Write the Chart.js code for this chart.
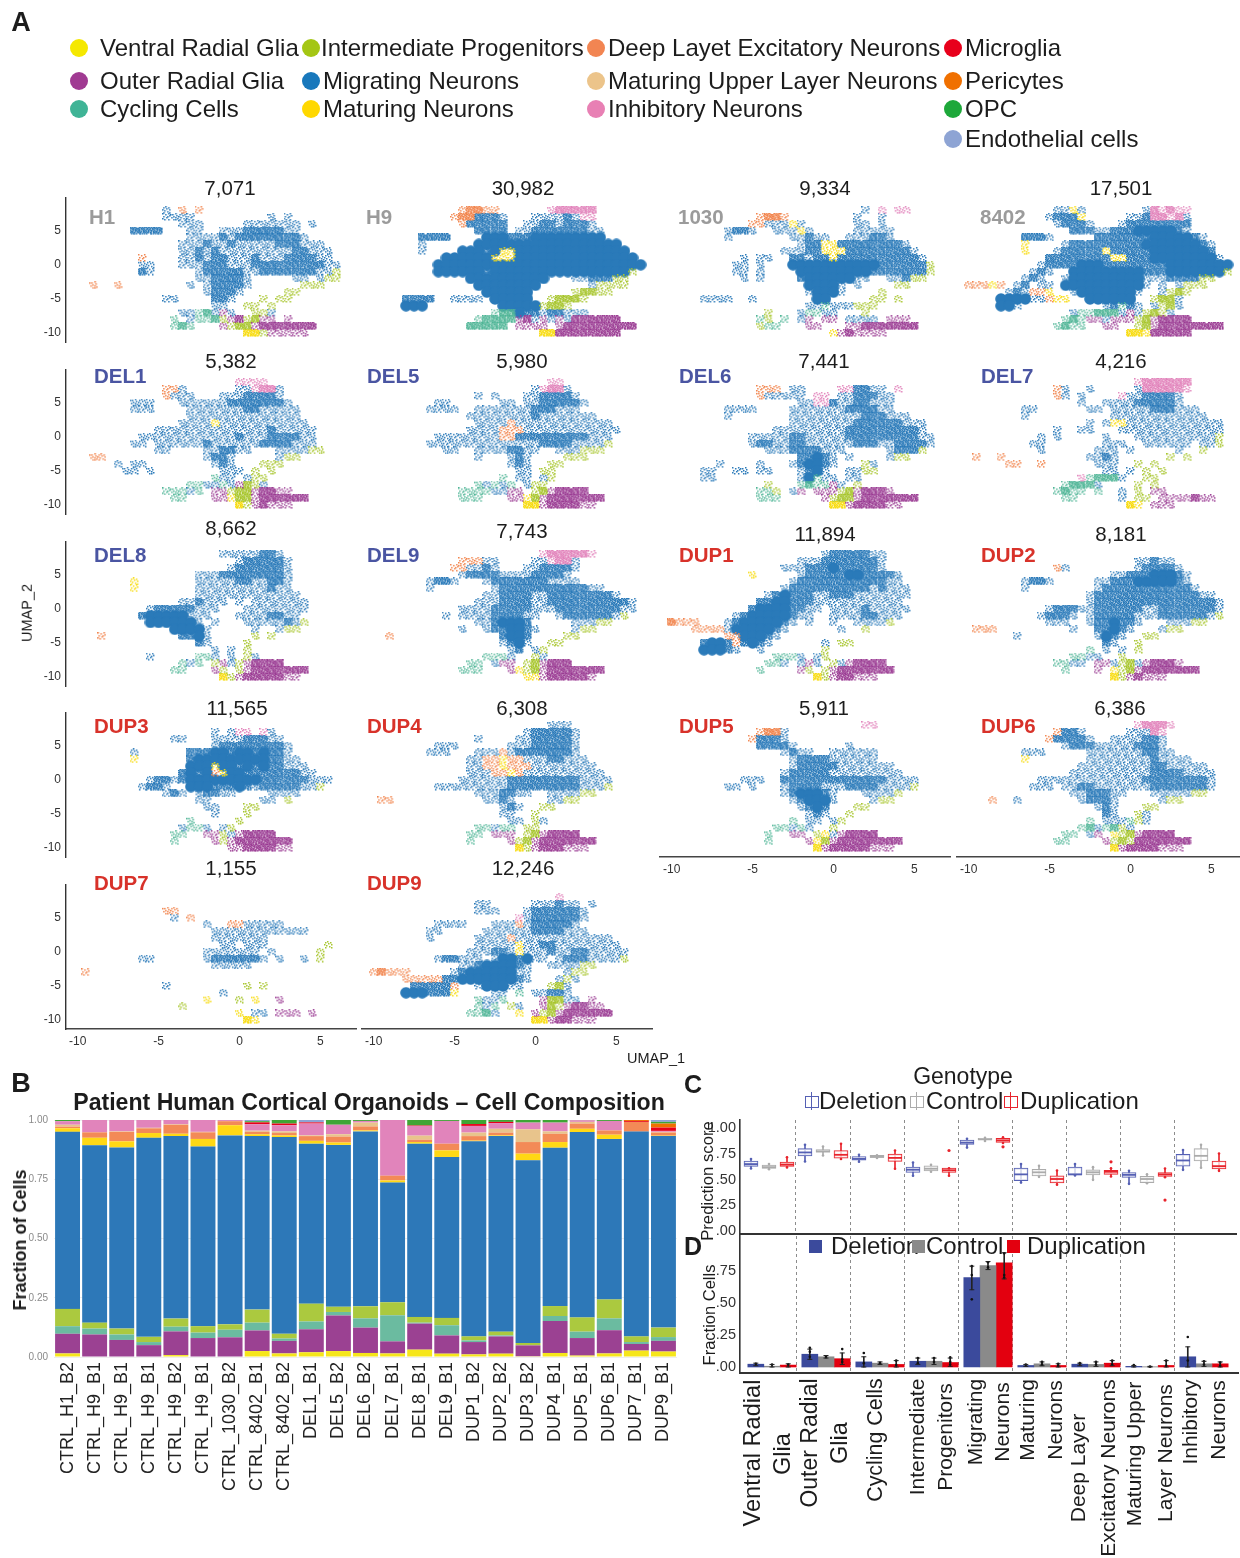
<!DOCTYPE html>
<html>
<head>
<meta charset="utf-8">
<title>Patient Human Cortical Organoids</title>
<script src="https://cdn.jsdelivr.net/npm/chart.js@4"></script>
<style>
  html, body { margin: 0; background: #fff; }
  #page { position: relative; width: 1240px; height: 1558px; overflow: hidden; font-family: "Liberation Sans", Arial, sans-serif; color: #1c1c1c; filter: blur(.35px); }
  #page canvas { position: absolute; }
  .txt { position: absolute; white-space: nowrap; line-height: 1; }
  .dot { position: absolute; width: 18px; height: 18px; border-radius: 50%; }
</style>
</head>
<body>
<div id="page"></div>
<script>
// cell colours, shared by the legend and the composition bars
const cellTypes = ['Ventral Radial Glia','Outer Radial Glia','Cycling Cells','Intermediate Progenitors','Migrating Neurons','Maturing Neurons','Deep Layer Excitatory Neurons','Maturing Upper Layer Neurons','Inhibitory Neurons','Microglia','Pericytes','OPC','Endothelial cells'];
const cellColors = ['#f6e61a','#9b4192','#6bbba0','#abc93f','#2d78b8','#ffd815','#f38a57','#e8c48c','#e184bb','#e8001b','#f07000','#3fa535','#8ea4d4'];

// --- panel A: density read off each UMAP, one char per cell (x -10..6.5 by .5, y 8..-10 by 1)
// b B # blue, p P purple, g G green, t T teal, y Y yellow, o O orange, k K pink; lower case = sparse
const h1Rows = [
'           b o o',
'           bbbb         b b',
'             bbb     bbbbbbb b',
'       BBBB   bb  bbbBBBBBbb',
'              bbbbBbBBBBBBBBb',
'             bbbBbbBbbbbbBBBbbb',
'             bbBbBbbbbbbbbbBBbbb',
'        o    bbBbBBbbbBbbbBBBBbb',
'        bb   bbbBBBbbbBBBBBBBBBbb',
'        Bb     bBBBBBbbBBBBBBBbbg',
'               bbBBBBb     bb bgg',
'  o  o        b bBBBBb      ggg',
'                bBBBb     gg',
'           bb    BBb   g gg',
'                 bb  gg g',
'             bbtTbpb  ggb',
'            t bttTgpPgGpp p',
'            tTt   pgGGpPPPPPPP',
'                     YYgppppp'];
const h9Rows = [
'           oOOoo      kKKKKK',
'          oOOBBBb   bbbbBbkk',
'           oBBBBB  bbBBbBBBb',
'             BBBB bbBBBBBBBbb',
'      BBBB    ###BBB#########',
'      b      ##################',
'      b    ###B#yy##############',
'         ######yyy###############',
'        ##########################',
'        ######B#################g',
'            ##########   bbBBBgg',
'             ########      bgggg',
'              ######     gGGgg',
'    BBBB  bbbb #####  gGGGg',
'    ###         #####gGGg',
'               tTT#BBbBBbbb',
'             tTTTTpPbpbpbPPPPPP',
'            TTTTT pppp pPPPPPPPPP',
'                     YYPPPPPPPP'];
const c1030Rows = [
'                        b k kk',
'           oOOo        b  b',
'          oobbbyb      bb b',
'       bBBb  bbbyb     bbbbb',
'       b       bbBbb  bbbBBb',
'                bBByyBBBBBBBBb',
'              bbbBByyyBBBBBBBBb',
'         b bb  BBbBByBBBBBBBBBBb',
'        bb b   ###########BBBBBBg',
'        bb b    #########BBBBBBBg',
'         b b    B######bb  bbBgg',
'                 ####b b    gg',
'                 b###b    g',
'    bbbb  b       ##     gg g',
'                 bbtbbbggg',
'            g   bttbb   g',
'           tg t bp pp bbbb ppp',
'           gtt   pp   ppPPPPPPP',
'                    ypPpppp'];
const c8402Rows = [
'           bbyb       bKkKkk',
'          bBBBy     bbBKKkKb',
'           bBBBb   bBBBBBBBB',
'             BBBbbBBB#####Bb',
'       BBBb     BBBBBBB#####Bb',
'       y    bBBBBBBBBB#######Bb',
'       y   bBBBBByBBBBB#######B',
'          BBBBBBBByyBBB########b',
'         bBBBB###BBBBBBBB########',
'        bBb  #########BBB#######g',
'       bBb  b#########bbbBBBBgg',
'oooyo bB bb ##########b b bggg',
'     bBbooy  b#######b  bgGg',
'    ####bboyy  ######  gGGb',
'    ##b          bBtBb bgGb',
'             bttTTTbpbgGgb',
'            tTtppbpppgGpPPPP',
'           tTtt  pp  gGpPPPPPPPP',
'                    YYyPPPPP'];
const del1Rows = [
'                    kkkk',
'           oob      bbkKKb',
'           obbb   bbbBBBBb',
'       bbb   bbbbbbBBBBBBBb',
'       bbb    bbbbbbbBBbbbbb',
'              bbbbbbbbbbbbbb',
'             bbbbybbbbbbbbbbb',
'          bbbbbbbbbbbbbbBbbbbb',
'        bbbbbbbbbbbbBbbbBBBBbb',
'       bb bbbbbbBbbbbbbBBBBbbb',
'          bb    bbBBbb   bbbbgg',
'  oo            bBBb     bgg',
'     b bb        bBb   ggg',
'      bb b        bbb g g',
'                 tbb bgg',
'              ttbbtbpGgb',
'           tttbt ppgGGpPPpp',
'            tt   ppyGGpPPPPPP',
'                    YgpPppp'];
const del5Rows = [
'                      kk',
'                    bkKKb',
'             b b   bbBBBBb',
'        bb      bb bbBBBBBb',
'       bbbb  bbbbbbbBBBbbb',
'            bbbbbbbbBbbbbbbb',
'             bbbbobbbbbbbbbbbb',
'            bbbbooobbbbbbbbbbbb',
'        bbbbbbbbooBBBBBBBBBbbb',
'       bbbbbbbbbbbbbbBBBBbbbbg',
'         bb  bbbbBBbb  bbbggg',
'             b   bBb    ggg',
'                 bBb  gg',
'                  bb gg',
'                t bb bg',
'             tbtbt bgg',
'           ttttbbpp gGpPPPP',
'           ttt   ppyGpPPPPPPP',
'                   YYpPPPPpp'];
const del6Rows = [
'',
'           ooo bb    kkBBbb k',
'           obbbbb kk bbBBBbb',
'                bbkkBbbBBbbb',
'       bbbb    bbbbbbbBBBBbb',
'       b       bbbbbbbbbBBBbbb',
'               bbbbbbbbBBBBBBbbb',
'             bbbbbbbbbBBBBBBBBBb',
'          bbbbbBBbbbbbBBBBBBBBBbb',
'          bBBbbBBbbbbbbBBBbbBBBBb',
'            bbbBBBBbbb     bBBBg',
'                BB#Bb b    bgg',
'      b    b   bB##Bb   gb',
'    bb  bb bb   bB#b  bbgg',
'    bb          b#tbb bb',
'            g   tTttpb g',
'           ttg bp pppgGpPPPp',
'           ttt     pgGGpPPPPPPP',
'                    YYpPPPPpp'];
const del7Rows = [
'                     kKKKKKK',
'           ob  b     bKKKKKk',
'           ob b    kbbBBBBb',
'              b  bbbbBBBBBb',
'       bb      bb bbbbbBBBbbb',
'       b          bbbbbbbbbbbb',
'               b byybbbbbbbbbbbb',
'           b  bb   bbbbbbbbbbbbb',
'         b b     b   bbbbbbbbbbg',
'        bb       bbb  bbbbbb bbg',
'         b      bbb b     b  g',
' o  o          bbBb      g g',
'     oo  o      bbb  g g',
'                 bb b g g',
'              ktTTTb  gg',
'            tTTTb    g g',
'           tTtt t  b g pp',
'            tt     b gg ppppPpp',
'                    Yy ppp'];
const del8Rows = [
'                  bbbbbBBb',
'                    bBBBBBb',
'                   bBBBBBBb',
'               bbbBBBBBBBBb',
'       y       bbbbbBBbbBBb',
'       y       bbbbbbbbbBbb',
'               bbbbbbbbbbbbb',
'             bbBbbb b bbbbbbb',
'         bBBBBBbbb   bbbbbbbb',
'        B#####bbb   bbbbBBbb',
'         ######b b   bbbbbBbg',
'            ####b     b  bgg',
'   o         BB#b     g g',
'               Bb    g',
'                 b b g',
'         b     ttb b gb',
'             tbt gpbgpPPPP',
'            tt   pg gpPPPPPPP',
'                  YgpPPPPPpp'];
const del9Rows = [
'                     kKKKKKk',
'           ooobb    bbkKKb',
'          oobbBb   bbBBBBb',
'           bBBBBbbbbBBBBb',
'       bBBb   bBBBBBBBbbbb',
'       b       bBBBBBBBBBBBbb',
'              bbBBBBbbBBBBBBBBb',
'             bbbBBBBbbBBBBBBBBBBb',
'           bbbbBBBBBbbbBBBBBBBBbb',
'         b bbbbBBBBbb  bBBBBBBbg',
'             bbB###B     bbbgg',
'           b  bBB##Bb    bgg',
'  o             B##B    gg',
'                bB#b  gg',
'                 bB bg',
'              tttb  gb',
'            tt bpp gGpPPP',
'           ttt   pygGpPPPPPPP',
'                   yypPPPPPp'];
const dup1Rows = [
'                   bBBBBBbb',
'                bbbBBBBBBBb',
'              bbbBBB#BBBBBb',
'          y     bBBBBB##BBBBb',
'               bBBBBBBBBBBBbb',
'              bBBBBBBBBBBbBbbb',
'            bB#BBBbbBBBbbbbbbb',
'           BB##BBBbbbbbbbbbbb',
'          B####BBbb bbbbBbbbbb',
'        bB#####Bbb  bbbbBBbbb',
'Oooo   bB#####Bb b  b  bbbbg',
'   oooob#####Bb      b  g',
'       oo###Bb',
'    B##BoB#Bb      b gg',
'    ###Bb  b       g',
'             tttb bg',
'            ttb bpb gbpPPPP',
'           t    pg gpPPPPPPP',
'                  YgpPPppp'];
const dup2Rows = [
'',
'                     bbBbb',
'           ob        bBBBBb',
'                  bbBBB###Bb',
'       bBBb     bbBBB#####Bb',
'       b        bBBBBBBBBBBBb',
'               bBBBBBBBBBBBBBbb',
'               bBBBBBBBBBBBBBBBb',
'          bBBBbbBBBBBBbbBBBBBBBb',
'         bBBBb bBBBBBbbbBBBBBBbg',
'          bbb  bBB#BBb   bbbgg',
' ooo         b  BB#Bb   bgg',
'      b         b#Bb  gg',
'                 Bb  g',
'               t b b g',
'             ttbb  g',
'           ttbb ppbgGbpPPPp',
'            t   p ygGpPPPPPPP',
'                  YgpPppp'];
const dup3Rows = [
'',
'                 b bkk kb',
'            bb   bbbbBBBbb',
'                 bBBBBBBBBb',
'       b      BBB##B##B#BBb',
'       y      B#########BBbb',
'              ###y##B#B#BBbbb',
'             B#B#oy##BBBBBBBbb',
'         bBBbB#########BBBBBBbbb',
'        bBBb  ###BBB#BbBBBBBbbg',
'           bBb bBBbb    bbbb',
'               bb      bb g',
'                bb   gg',
'                 b   g',
'              t     g',
'             bttb bg',
'            tt  ppgbpPPPP',
'            t    pgpPPPPPPP',
'                   ppPPPPpp'];
const dup4Rows = [
'                      bbb',
'                   bBBBBBb',
'             b    bbBBBBBb',
'        bbb      bbbBBBBBb',
'       bbb   bbbobBBBBBBBb',
'            bbooyoobbbBBbbb',
'            bbooyooobbbbbbbb',
'            bbbooyobbbbbbbbbb',
'           bbbbbbBBBBBBBBBbbbb',
'        bbbbbbbbbBBBBBBBBBbbbg',
'             bbbBBbb  bbbbgg',
' oo           bbBb    bbgg',
'                bBb  gg',
'                bb  g',
'                 bb gb',
'             ttbtt gg',
'            tt ppp gGpPPPP',
'            t    pgGpPPPPPPP',
'                  YgpPPPppp'];
const dup5Rows = [
'                        kk',
'           oOOb',
'          oBBBb',
'           BBBBb      b',
'              bBbb  bbbbbb',
'               bBBBBbbbbbb',
'               bBBBBBbbbbbbb',
'              bBBBBBbbbbbbbbb',
'         bbb  BBBBBBBBBBBBBbbbb',
'       bb b   bBBBBbbbBBBBbbbbg',
'              bB###Bb   bbbbg',
'               bB###b    bgg',
'                bB#B   gg',
'                 bBb  g',
'               t bb bg',
'             ttbtb  g',
'            t  pp gybpPPPP',
'            t    pyGpPPPPPPPP',
'                  YpPPPPPppp'];
const dup6Rows = [
'                     kKKKk',
'           oBBb     bbbKk',
'          oBBBBb  bbbbBBb',
'            bBBBbbbbbBBBb',
'       bbb     bbbbbbbBBbb',
'       y       bbbbbbbbBbbbb',
'              bbbbbbbbbBBbbbbb',
'             bbbbbbbbbbBBBBbbbb',
'         bbbbbbbbbbbbbBBBBBBBBb',
'        bbb bbBBbbbbbbbBBBBBBBb',
'             bbBBBbb   bbbbbgg',
'   o  b       bBBBb     bgg',
'                bBb   gg',
'                 Bb  gb',
'               t bbbtgb',
'              tTbtTgb',
'            tt bp ygGpPPPP',
'           tt    pgGgPPPPPPP',
'                  YpPPPPppp'];
const dup7Rows = [
'',
'',
'           oo',
'            b o',
'                b  oobbbbb',
'                 bbbbbbbbbbbb',
'                 bbbbbbb',
'                  bb bbb       g',
'                bbbbbbb b     g',
'        bb      bBBBBBBb b  b g',
'                 bbbbb',
' o',
'',
'           b         g g',
'                  b',
'                y   g y  p',
'             g',
'                    y bb ppp p',
'                     Yy'];
const dup9Rows = [
'                       k',
'             bb     bbbBbb b',
'             bbb   bBBBBBBb',
'                  kbBBBBBBb',
'        bbbb   bbbobBBBBBb',
'       bb     bbbbbbBBBBbbb',
'       b     bbbbobbbbbbbbbbbb',
'             bbbbbybbBBbbbbbbbb',
'            bbbBBbybbbBbbBBbbbbb',
'        bBBbbb b##B#bb bBBBbbbbg',
'           bbB####Bb  bbbbgg',
'oOooo     bB######bb    bgg',
'    oooooBB#######Bb   bgb',
'     BBBBBo  b###bb   gGb',
'    ###BBBy    bb t bbBBb',
'             tbbt    pGGbb p',
'             tbt gb  pGgpPPpp',
'            ttTb  y pgGpPPPPPP',
'                    YYpPPppp'];

const sampleNames = ['H1','H9','1030','8402','DEL1','DEL5','DEL6','DEL7','DEL8','DEL9','DUP1','DUP2','DUP3','DUP4','DUP5','DUP6','DUP7','DUP9'];
const sampleCounts = ['7,071','30,982','9,334','17,501','5,382','5,980','7,441','4,216','8,662','7,743','11,894','8,181','11,565','6,308','5,911','6,386','1,155','12,246'];
const sampleRows = [h1Rows,h9Rows,c1030Rows,c8402Rows,del1Rows,del5Rows,del6Rows,del7Rows,del8Rows,del9Rows,dup1Rows,dup2Rows,dup3Rows,dup4Rows,dup5Rows,dup6Rows,dup7Rows,dup9Rows];
const umapTicks = [-10,-5,0,5];

// --- panel B
const barLabels = ['CTRL_H1_B2','CTRL_H9_B1','CTRL_H9_B1','CTRL_H9_B1','CTRL_H9_B2','CTRL_H9_B1','CTRL_1030_B2','CTRL_8402_B1','CTRL_8402_B2','DEL1_B1','DEL5_B2','DEL6_B2','DEL7_B1','DEL8_B1','DEL9_B1','DUP1_B2','DUP2_B2','DUP3_B2','DUP4_B1','DUP5_B1','DUP6_B1','DUP7_B1','DUP9_B1'];
const fracVentral = [.015,0,0,0,.008,0,0,.025,.015,.02,.025,.017,.015,.031,.014,.011,.014,.003,.017,.006,.015,.027,.023];
const fracOuter = [.083,.095,.072,.05,.1,.08,.083,.087,.053,.097,.15,.107,.051,.11,.077,.052,.073,.046,.135,.074,.098,.028,.045];
const fracCycling = [.032,.025,.023,.013,.02,.023,.032,.033,.01,.033,.015,.039,.11,.004,.043,.007,.004,0,.021,.027,.05,.008,.016];
const fracInter = [.073,.025,.025,.022,.034,.027,.023,.055,.02,.075,.022,.051,.055,.024,.031,.017,.016,.01,.042,.06,.08,.024,.04];
const fracMigrating = [.747,.748,.764,.84,.77,.758,.797,.732,.83,.675,.683,.738,.505,.731,.679,.823,.825,.771,.668,.782,.677,.864,.808];
const fracMaturing = [.015,.032,.026,.02,.01,.032,.043,.008,.007,.012,.01,.004,.009,.007,.028,.003,.003,.028,.024,.014,.018,0,.002];
const fracDeep = [.007,.023,.04,.02,.038,.028,.017,.01,.01,.02,.025,.017,.02,.01,.028,.019,.012,.049,.035,.022,.018,.041,.013];
const fracUpper = [.008,0,.002,.002,.002,.002,.001,.005,.007,.003,.01,.016,0,.017,0,.015,.016,.054,.01,.007,0,0,.003];
const fracInhib = [.015,.052,.048,.033,.018,.05,.004,.027,.026,.05,.04,.007,.235,.041,.096,.028,.024,.028,.037,.007,.04,0,.004];
const fracMicroglia = [0,0,0,0,0,0,0,.008,.007,.005,0,0,0,.002,0,.008,.005,0,0,0,0,.004,.014];
const fracPericytes = [0,0,0,0,0,0,0,0,0,0,0,0,0,0,0,0,0,0,0,0,0,.004,.017];
const fracOpc = [.005,0,0,0,0,0,0,.005,.015,0,.02,.004,0,.023,.004,.017,.008,.011,.011,.001,.004,0,.007];
const fracEndo = [0,0,0,0,0,0,0,.005,0,.01,0,0,0,0,0,0,0,0,0,0,0,0,.008];
const barSeries = [fracVentral,fracOuter,fracCycling,fracInter,fracMigrating,fracMaturing,fracDeep,fracUpper,fracInhib,fracMicroglia,fracPericytes,fracOpc,fracEndo];

// --- panel C, per cell group: [low whisker, q1, median, q3, high whisker]
const boxDeletion = [[.607,.627,.65,.68,.70],[.675,.73,.763,.80,.838],[.672,.688,.70,.724,.74],[.536,.568,.595,.62,.666],[.81,.84,.858,.883,.896],[.47,.49,.55,.61,.65],[.54,.545,.55,.62,.65],[.458,.52,.545,.568,.584],[.594,.63,.685,.744,.786]];
const boxControl = [[.60,.607,.62,.64,.65],[.733,.766,.773,.79,.82],[.71,.714,.72,.734,.735],[.575,.584,.605,.633,.643],[.875,.886,.89,.90,.905],[.526,.536,.57,.60,.633],[.497,.545,.57,.594,.62],[.464,.47,.505,.53,.55],[.614,.68,.73,.80,.838]];
const boxDuplication = [[.617,.627,.645,.669,.717],[.70,.708,.74,.782,.847],[.604,.675,.71,.747,.782],[.536,.568,.59,.61,.61],[.855,.86,.88,.90,.91],[.45,.468,.505,.536,.588],[.53,.55,.575,.59,.61],[.523,.53,.55,.568,.607],[.584,.604,.63,.68,.753]];
const boxOutliers = [[3,.782],[4,.818],[6,.672],[7,.30]];
const scoreTicks = [0,.25,.5,.75,1];
const scoreTickNames = ['.00','.25','.50','.75','1.00'];

// --- panel D
const meanDeletion = [.022,.10,.04,.045,.70,.012,.022,.005,.08];
const meanControl = [.006,.08,.03,.045,.795,.025,.02,.002,.025];
const meanDuplication = [.015,.065,.02,.035,.815,.012,.03,.012,.025];
const errDeletion = [[.01,.03],[.06,.14],[0,.08],[.02,.07],[.605,.79],[.005,.02],[.01,.03],[0,.012],[0,.158]];
const errControl = [[0,.02],[.07,.09],[.02,.04],[.02,.07],[.763,.826],[.01,.04],[.005,.04],[0,.005],[.005,.045]];
const errDuplication = [[0,.025],[.02,.11],[0,.05],[.005,.07],[.69,.895],[0,.025],[.01,.05],[0,.05],[0,.04]];
const dotsDeletion = [[0,.025],[1,.15],[1,.12],[1,.08],[2,.11],[2,.03],[3,.07],[3,.03],[4,.53],[4,.72],[4,.79],[5,.02],[6,.03],[7,.015],[8,.235],[8,.05]];
const dotsControl = [[0,.02],[1,.08],[2,.03],[3,.07],[3,.04],[4,.82],[4,.78],[5,.04],[5,.02],[6,.04],[6,.02],[7,.003],[8,.045],[8,.02]];
const dotsDuplication = [[0,.02],[1,.14],[1,.06],[1,.04],[2,.05],[2,.015],[3,.075],[3,.04],[3,.02],[4,.89],[4,.72],[4,.70],[5,.025],[5,.01],[6,.05],[6,.02],[7,.05],[7,.01],[8,.035],[8,.01]];

const genoColors = ['#3b4a9c','#8a8a8a','#e3000f'];
const boxColors = ['#5560b4','#ababab','#e8242c'];
const dividers = [0,1,2,3,4,5,6,7];

const page = document.getElementById('page');
const COLOR_BY_KIND = { b:'#2a7ab9', p:'#9b3d94', g:'#a8c62e', t:'#4fb596', y:'#f8dc10', o:'#f2854e', k:'#e283bb' };

// stipple textures for one density cell
const SPARSE_TILES = [
  ['x.....x.','...x....','.......x','.x...x..','....x...','x.......','..x...x.'],
  ['...x....','.x....x.','....x...','x......x','..x.....','.....x..','.x.....x'],
  ['.....x..','x.x.....','......x.','...x....','.x...x..','.......x','...x.x..']
];
const MEDIUM_TILES = [
  ['x.xx.x.x','.x..x.x.','xx.x..xx','..x.xx..','x.x..x.x','.xx.x..x','x...xx.x'],
  ['.xx.x.xx','x..x.x..','.x.xx.x.','xx...x.x','.x.x.xx.','x.x..x.x','.xx.x.x.'],
  ['x.x.xx..','xx.x..xx','..xx.x.x','x..x.xx.','.xx..x.x','x.x.x..x','.x.xx.x.']
];
const tileCache = {};

function getTile(kind, level, variant) {
  const key = kind + level + variant;
  if (tileCache[key]) return tileCache[key];
  const t = document.createElement('canvas');
  const col = COLOR_BY_KIND[kind];
  if (level === 3) {
    t.width = 12; t.height = 12;
    const c3 = t.getContext('2d');
    c3.fillStyle = col;
    c3.beginPath();
    c3.arc(6, 6, 5.8, 0, Math.PI * 2);
    c3.fill();
  } else {
    t.width = 9; t.height = 8;
    const c2 = t.getContext('2d');
    c2.fillStyle = col;
    const pat = (level === 2 ? MEDIUM_TILES : SPARSE_TILES)[variant];
    pat.forEach((line, r) => [...line].forEach((ch, c) => { if (ch === 'x') c2.fillRect(c, r, 1.5, 1.5); }));
  }
  tileCache[key] = t;
  return t;
}

function addText(str, x, y, opts) {
  opts = opts || {};
  const el = document.createElement('div');
  el.className = 'txt';
  el.textContent = str;
  el.style.left = x + 'px';
  el.style.top = y + 'px';
  el.style.fontSize = (opts.size || 20) + 'px';
  if (opts.bold) el.style.fontWeight = 'bold';
  if (opts.color) el.style.color = opts.color;
  const shift = opts.left ? '0' : '-50%';
  el.style.transform = `translate(${shift},-50%)` + (opts.rotate ? ' rotate(-90deg)' : '');
  page.appendChild(el);
}

function addDot(x, y, color) {
  const el = document.createElement('div');
  el.className = 'dot';
  el.style.left = (x - 9) + 'px';
  el.style.top = (y - 9) + 'px';
  el.style.background = color;
  page.appendChild(el);
}

// makes a canvas so the plot area lands on the given box of the page
function makeCanvas(box) {
  const c = document.createElement('canvas');
  c.width = box.w + box.ml + box.mr;
  c.height = box.h + box.mt + box.mb;
  c.style.left = (box.x - box.ml) + 'px';
  c.style.top = (box.y - box.mt) + 'px';
  c.style.width = c.width + 'px';
  c.style.height = c.height + 'px';
  page.appendChild(c);
  return c;
}

function baseOptions(box) {
  return {
    responsive: false, animation: false, events: [],
    layout: { autoPadding: false, padding: { top: box.mt, right: box.mr, left: 0, bottom: 0 } },
    plugins: { legend: { display: false }, tooltip: { enabled: false } }
  };
}

// keeps chart.js from shrinking the plot to make room for tick labels
function fitX(box) {
  return s => { s.height = box.mb; s.paddingLeft = s.paddingRight = s.paddingTop = s.paddingBottom = 0; };
}
function fitY(box) {
  return s => { s.width = box.ml; s.paddingLeft = s.paddingRight = s.paddingTop = s.paddingBottom = 0; };
}

// turns one density map into scatter datasets, one mark per cell
function cellDatasets(rows) {
  const groups = {};
  rows.forEach((row, j) => {
    [...row].forEach((ch, i) => {
      if (ch === ' ') return;
      let kind = ch.toLowerCase(), level = ch === ch.toLowerCase() ? 1 : 2;
      if (ch === '#') { kind = 'b'; level = 3; }
      const variant = level === 3 ? 0 : (i * 2 + j * 5) % 3;
      const key = kind + level + variant;
      if (!groups[key]) groups[key] = { kind, level, variant, pts: [] };
      groups[key].pts.push({ x: -10 + i * 0.5, y: 8 - j });
    });
  });
  return Object.values(groups).map(g => ({
    data: g.pts,
    pointStyle: getTile(g.kind, g.level, g.variant),
    pointRadius: 5,
    order: g.kind === 'b' ? 5 : 1
  }));
}

function drawUmap(idx, col, row, showX, showY) {
  const colLeft = [66, 362, 660, 957][col];
  const rowTop = [198, 370, 542, 713, 885][row];
  const box = { x: colLeft, y: rowTop, w: 290, h: 144, ml: 32, mr: 4, mt: 4, mb: 22 };
  const tickFont = { size: 12, family: '"Liberation Sans"' };
  new Chart(makeCanvas(box), {
    type: 'scatter',
    data: { datasets: cellDatasets(sampleRows[idx]) },
    options: Object.assign(baseOptions(box), {
      scales: {
        x: {
          type: 'linear', min: -10.72, max: 7.2,
          afterBuildTicks: s => { s.ticks = umapTicks.map(value => ({ value })); },
          afterFit: fitX(box),
          grid: { display: false, drawTicks: showX, tickLength: 3, tickColor: '#444' },
          border: { display: showX, color: '#444', width: 1.6 },
          ticks: { display: showX, color: '#333', font: tickFont, maxRotation: 0, padding: 2 }
        },
        y: {
          type: 'linear', min: -11.3, max: 9.78,
          afterBuildTicks: s => { s.ticks = umapTicks.map(value => ({ value })); },
          afterFit: fitY(box),
          grid: { display: false, drawTicks: showY, tickLength: 3, tickColor: '#444' },
          border: { display: showY, color: '#333', width: 1.4 },
          ticks: { display: showY, color: '#333', font: tickFont, padding: 2 }
        }
      }
    })
  });
}

function drawComposition() {
  const box = { x: 54, y: 1119.5, w: 623, h: 237, ml: 30, mr: 3, mt: 8, mb: 150 };
  new Chart(makeCanvas(box), {
    type: 'bar',
    data: {
      labels: barLabels,
      datasets: barSeries.map((vals, k) => ({ label: cellTypes[k], data: vals, backgroundColor: cellColors[k], barPercentage: .92, categoryPercentage: 1 }))
    },
    options: Object.assign(baseOptions(box), {
      scales: {
        x: {
          stacked: true,
          afterFit: fitX(box),
          grid: { display: false, drawTicks: false },
          border: { display: false },
          ticks: { autoSkip: false, minRotation: 90, maxRotation: 90, color: '#222', padding: 5, font: { size: 18, family: '"Liberation Sans"' } }
        },
        y: {
          stacked: true, min: 0, max: 1,
          afterBuildTicks: s => { s.ticks = scoreTicks.map(value => ({ value })); },
          afterFit: fitY(box),
          grid: { color: '#eeeeee', drawTicks: false },
          border: { display: false },
          ticks: { color: '#8a8a8a', padding: 6, font: { size: 10, family: '"Liberation Sans"' }, callback: v => v.toFixed(2) }
        }
      }
    })
  });
}

function dividerScale(box, offset, min, max) {
  return {
    type: 'linear', min, max, offset: false,
    afterBuildTicks: s => { s.ticks = dividers.map(d => ({ value: d + offset })); },
    afterFit: fitX(box),
    grid: { offset: false, color: '#8c8c8c', lineWidth: 1, drawTicks: false },
    border: { display: true, color: '#333', width: 2, dash: [3, 3] },
    ticks: { display: false }
  };
}

function scoreDatasets(boxes, g, offset) {
  const xOf = i => i + offset;
  return [
    { type: 'bar', data: boxes.map((b, i) => ({ x: xOf(i), y: [b[0], b[4]] })), backgroundColor: boxColors[g], barThickness: 1, grouped: false, order: 3 },
    { type: 'bar', data: boxes.map((b, i) => ({ x: xOf(i), y: [b[1], b[3]] })), backgroundColor: 'rgba(255,255,255,.75)', borderColor: boxColors[g], borderWidth: 1, borderSkipped: false, barThickness: 14, grouped: false, order: 2 },
    { type: 'scatter', data: boxes.map((b, i) => ({ x: xOf(i), y: b[2] })), pointStyle: 'line', pointRadius: 7, pointBorderWidth: 1.8, pointBorderColor: boxColors[g], order: 1 },
    { type: 'scatter', data: boxes.flatMap((b, i) => [{ x: xOf(i), y: b[0] }, { x: xOf(i), y: b[4] }]), pointRadius: 1.3, pointBackgroundColor: boxColors[g], pointBorderWidth: 0, order: 1 }
  ];
}

function drawScores() {
  const box = { x: 740, y: 1120, w: 496, h: 114, ml: 40, mr: 3, mt: 1, mb: 3 };
  const sets = [
    ...scoreDatasets(boxDeletion, 0, -1 / 3),
    ...scoreDatasets(boxControl, 1, 0),
    ...scoreDatasets(boxDuplication, 2, 1 / 3),
    { type: 'scatter', data: boxOutliers.map(o => ({ x: o[0] + 1 / 3, y: o[1] })), pointRadius: 1.6, pointBackgroundColor: boxColors[2], pointBorderWidth: 0, order: 1 }
  ];
  new Chart(makeCanvas(box), {
    data: { datasets: sets },
    options: Object.assign(baseOptions(box), {
      scales: {
        x: dividerScale(box, .5, -.537, 8.648),
        y: {
          min: -.029, max: 1.078,
          afterBuildTicks: s => { s.ticks = scoreTicks.map(value => ({ value })); },
          afterFit: fitY(box),
          grid: { display: false, drawTicks: false },
          border: { color: '#333', width: 1.6 },
          ticks: { color: '#333', padding: 4, font: { size: 14.5, family: '"Liberation Sans"' }, callback: v => scoreTickNames[scoreTicks.indexOf(v)] }
        }
      }
    })
  });
}

function fractionDatasets(means, errs, dots, g, offset) {
  const xOf = i => i + offset;
  return [
    { type: 'bar', data: means.map((m, i) => ({ x: xOf(i), y: m })), backgroundColor: genoColors[g], barThickness: 16, grouped: false, order: 3 },
    { type: 'bar', data: errs.map((e, i) => ({ x: xOf(i), y: e })), backgroundColor: '#222', barThickness: 1, grouped: false, order: 2 },
    { type: 'scatter', data: errs.flatMap((e, i) => [{ x: xOf(i), y: e[0] }, { x: xOf(i), y: e[1] }]), pointStyle: 'line', pointRadius: 2.5, pointBorderWidth: 1, pointBorderColor: '#222', order: 1 },
    { type: 'scatter', data: dots.map(d => ({ x: xOf(d[0]), y: d[1] })), pointRadius: 1.3, pointBackgroundColor: '#111', pointBorderWidth: 0, order: 1 }
  ];
}

function drawFractions() {
  const box = { x: 740, y: 1236, w: 498, h: 137, ml: 40, mr: 2, mt: 1, mb: 3 };
  new Chart(makeCanvas(box), {
    data: {
      datasets: [
        ...fractionDatasets(meanDeletion, errDeletion, dotsDeletion, 0, -.3),
        ...fractionDatasets(meanControl, errControl, dotsControl, 1, 0),
        ...fractionDatasets(meanDuplication, errDuplication, dotsDuplication, 2, .3)
      ]
    },
    options: Object.assign(baseOptions(box), {
      scales: {
        x: dividerScale(box, .45, -.593, 8.63),
        y: {
          min: -.047, max: 1.026,
          afterBuildTicks: s => { s.ticks = scoreTicks.slice(0, 4).map(value => ({ value })); },
          afterFit: fitY(box),
          grid: { display: false, drawTicks: false },
          border: { color: '#333', width: 1.6 },
          ticks: { color: '#333', padding: 4, font: { size: 14.5, family: '"Liberation Sans"' }, callback: v => scoreTickNames[scoreTicks.indexOf(v)] }
        }
      }
    })
  });
}

function drawLegendA() {
  const items = [
    [79,48,100,0,'Ventral Radial Glia'],[311,48,321,3,'Intermediate Progenitors'],[596,48,608,6,'Deep Layet Excitatory Neurons'],[953,48,965,9,'Microglia'],
    [79,81,100,1,'Outer Radial Glia'],[311,81,323,4,'Migrating Neurons'],[596,81,608,7,'Maturing Upper Layer Neurons'],[953,81,965,10,'Pericytes'],
    [79,109,100,2,'Cycling Cells'],[311,109,323,5,'Maturing Neurons'],[596,109,608,8,'Inhibitory Neurons'],[953,109,965,11,'OPC'],
    [953,139,965,12,'Endothelial cells']
  ];
  const legendColors = ['#f5e800','#a03a92','#3fb496','#a4c614','#1878bc','#ffd800','#f28552','#ecc48a','#e880b4','#e8001b','#f07000','#1ea83a','#8ea4d4'];
  items.forEach(it => {
    addDot(it[0], it[1], legendColors[it[3]]);
    addText(it[4], it[2], it[1], { size: 24, left: true });
  });
}

function drawLabels() {
  const titleX = [230,523,825,1121, 231,522,824,1121, 231,522,825,1121, 237,522,824,1120, 231,523];
  const titleY = [188,188,188,188, 361,361,361,361, 528,531,534,534, 708,708,708,708, 868,868];
  const nameX = [89,366,678,980, 94,367,679,981, 94,367,679,981, 94,367,679,981, 94,367];
  const nameY = [217,217,217,217, 376,376,376,376, 555,555,555,555, 726,726,726,726, 883,883];
  sampleNames.forEach((name, i) => {
    addText(sampleCounts[i], titleX[i], titleY[i], { size: 20.5 });
    const color = name.startsWith('DEL') ? '#4a55a2' : name.startsWith('DUP') ? '#d8322a' : '#9b9b9b';
    addText(name, nameX[i], nameY[i], { size: 20.5, bold: true, color, left: true });
  });
  addText('A', 21, 22, { size: 27, bold: true });
  addText('B', 21, 1083, { size: 27, bold: true });
  addText('C', 693, 1084, { size: 25, bold: true });
  addText('D', 693, 1246, { size: 25, bold: true });
  addText('UMAP_2', 27, 613, { size: 14.5, rotate: true });
  addText('UMAP_1', 656, 1058, { size: 14.5 });
  addText('Patient Human Cortical Organoids – Cell Composition', 369, 1103, { size: 23.1, bold: true });
  addText('Fraction of Cells', 20, 1240, { size: 18, bold: true, rotate: true });
  addText('Genotype', 963, 1076, { size: 23 });
  addText('Prediction score', 708, 1181, { size: 16.7, rotate: true });
  addText('Fraction Cells', 709, 1315, { size: 16.5, rotate: true });
  // legends of C and D
  [[819,'Deletion',811,0],[926,'Control',916,1],[1020,'Duplication',1010,2]].forEach(l => {
    addText(l[1], l[0], 1101, { size: 24, left: true });
    const whisk = document.createElement('div');
    whisk.style.cssText = `position:absolute;left:${l[2]}px;top:1092px;width:1px;height:18px;background:${boxColors[l[3]]};`;
    page.appendChild(whisk);
    const sw = document.createElement('div');
    sw.style.cssText = `position:absolute;left:${l[2] - 6}px;top:1096px;width:12px;height:10px;border:1px solid ${boxColors[l[3]]};`;
    page.appendChild(sw);
  });
  [[831,'Deletion',809,0],[926,'Control',912,1],[1027,'Duplication',1007,2]].forEach(l => {
    addText(l[1], l[0], 1246, { size: 24, left: true });
    const sw = document.createElement('div');
    sw.style.cssText = `position:absolute;left:${l[2]}px;top:1240px;width:13px;height:13px;background:${genoColors[l[3]]};`;
    page.appendChild(sw);
  });
  const catLines = [['Ventral Radial',753,1453,23.6],['Glia',783,1454,23.6],['Outer Radial',809,1443,23],['Glia',840,1443,23.6],['Cycling Cells',876,1440,21.4],['Intermediate',916,1437,21],['Progenitors',944,1437,21],['Migrating',974,1422,21],['Neurons',1001,1422,21],['Maturing',1026,1420,21],['Neurons',1054,1420,21],['Deep Layer',1077,1468,21],['Excitatory Neurons',1107,1468,21],['Maturing Upper',1133,1454,21],['Layer Neurons',1164,1453,21],['Inhibitory',1189,1422,21],['Neurons',1217,1420,21]];
  catLines.forEach(l => addText(l[0], l[1], l[2], { size: l[3], rotate: true }));
}

// which panels sit where, and which of them carry an axis
const grid = [[0,0,0],[1,1,0],[2,2,0],[3,3,0],[4,0,1],[5,1,1],[6,2,1],[7,3,1],[8,0,2],[9,1,2],[10,2,2],[11,3,2],[12,0,3],[13,1,3],[14,2,3],[15,3,3],[16,0,4],[17,1,4]];
grid.forEach(g => {
  const showX = g[2] === 4 || (g[2] === 3 && g[1] >= 2);
  drawUmap(g[0], g[1], g[2], showX, g[1] === 0);
});
drawComposition();
drawScores();
drawFractions();
drawLegendA();
drawLabels();
</script>
</body>
</html>
